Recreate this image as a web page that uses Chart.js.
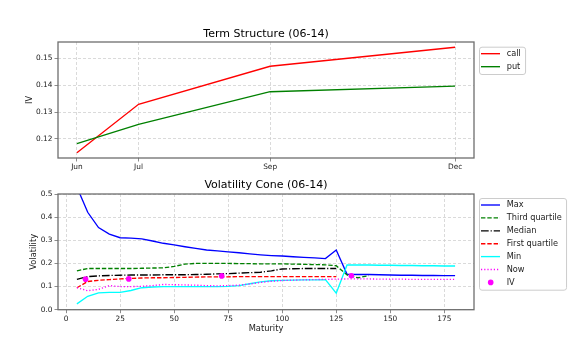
<!DOCTYPE html>
<html lang="en">
<head>
<meta charset="UTF-8">
<title>Term Structure / Volatility Cone (06-14)</title>
<script src="https://cdn.jsdelivr.net/npm/chart.js"></script>
<style>
  html, body { margin: 0; padding: 0; background: #fff; }
  .wrap { position: relative; width: 575px; height: 354px; }
  .wrap canvas { position: absolute; left: 0; }
  #termChart { top: 0; }
  #coneChart { top: 177px; }
</style>
</head>
<body>
<div class="wrap">
  <canvas id="termChart" width="575" height="177"></canvas>
  <canvas id="coneChart" width="575" height="177"></canvas>
</div>
<script>
// term structure: expiries (days from 06-14) and implied vol
const expiryLabels = ['Jun', 'Jul', 'Sep', 'Dec'];
const expiryDays = [13, 43, 107, 197];
const callIV = [0.1148, 0.1329, 0.1471, 0.1542];
const putIV = [0.1182, 0.1254, 0.1376, 0.1397];

// volatility cone (maturity in trading days)
const maturities = [5, 10, 15, 20, 25, 30, 35, 40, 45, 50, 55, 60, 65, 70, 75, 80, 85, 90,
  95, 100, 105, 110, 115, 120, 125, 130, 135, 140, 145, 150, 155, 160, 165, 170, 175, 180];
const coneMax = [0.530, 0.421, 0.355, 0.327, 0.311, 0.309, 0.306, 0.297, 0.287, 0.280,
  0.272, 0.265, 0.258, 0.254, 0.250, 0.246, 0.241, 0.237, 0.234, 0.232,
  0.229, 0.226, 0.224, 0.221, 0.258, 0.153, 0.152, 0.152, 0.151, 0.150,
  0.149, 0.149, 0.148, 0.148, 0.147, 0.147];
const coneQ3 = [0.168, 0.178, 0.178, 0.178, 0.178, 0.178, 0.179, 0.180, 0.181, 0.187,
  0.197, 0.200, 0.200, 0.200, 0.200, 0.199, 0.199, 0.198, 0.198, 0.198,
  0.197, 0.196, 0.195, 0.194, 0.190, 0.150, 0.138, 0.147, null, null,
  null, null, null, null, null, null];
const coneMedian = [0.131, 0.143, 0.146, 0.148, 0.149, 0.150, 0.150, 0.150, 0.151, 0.151,
  0.151, 0.152, 0.153, 0.155, 0.156, 0.158, 0.160, 0.162, 0.168, 0.176,
  0.177, 0.178, 0.178, 0.178, 0.178, null, null, null, null, null,
  null, null, null, null, null, null];
const coneQ1 = [0.095, 0.122, 0.127, 0.130, 0.133, 0.135, 0.137, 0.138, 0.138, 0.139,
  0.140, 0.141, 0.142, 0.142, 0.142, 0.143, 0.143, 0.143, 0.143, 0.143,
  0.143, 0.143, 0.143, 0.143, 0.143, null, null, null, null, null,
  null, null, null, null, null, null];
const coneMin = [0.025, 0.058, 0.073, 0.075, 0.075, 0.083, 0.095, 0.098, 0.100, 0.100,
  0.100, 0.100, 0.100, 0.100, 0.101, 0.104, 0.112, 0.120, 0.125, 0.127,
  0.128, 0.129, 0.129, 0.130, 0.071, 0.193, 0.193, 0.193, 0.192, 0.192,
  0.191, 0.191, 0.190, 0.190, 0.189, 0.189];
const coneNow = [0.095, 0.082, 0.088, 0.104, 0.100, 0.100, 0.101, 0.104, 0.109, 0.108,
  0.107, 0.106, 0.104, 0.103, 0.104, 0.106, 0.111, 0.118, 0.123, 0.126,
  0.128, 0.129, 0.130, 0.131, 0.132, 0.133, 0.133, 0.133, 0.132, 0.132,
  0.132, 0.131, 0.131, 0.131, 0.131, 0.131];
const ivMaturity = [9, 29, 72, 132];
const ivValue = [0.132, 0.133, 0.146, 0.147];

Chart.defaults.font.family = '"DejaVu Sans", sans-serif';
Chart.defaults.color = '#222222';
Chart.defaults.animation = false;

const pts = (xs, ys) => xs.map((x, i) => ({ x: x, y: ys[i] }));
const margin = (arr, f) => {
  const v = arr.filter(a => a !== null);
  const lo = Math.min(...v), hi = Math.max(...v), p = (hi - lo) * f;
  return [lo - p, hi + p];
};

// box around the axes, like matplotlib spines
const frame = {
  id: 'frame',
  afterDatasetsDraw(chart) {
    const { ctx, chartArea: a } = chart;
    ctx.save();
    ctx.strokeStyle = '#6e6e6e';
    ctx.lineWidth = 1.3;
    ctx.strokeRect(a.left, a.top, a.right - a.left, a.bottom - a.top);
    ctx.restore();
  }
};

// framed legend outside the axes on the right
const boxLegend = {
  id: 'boxLegend',
  afterDraw(chart, args, opts) {
    const { ctx, chartArea } = chart;
    const items = chart.data.datasets;
    ctx.save();
    ctx.font = '8.2px "DejaVu Sans", sans-serif';
    const textW = Math.max(...items.map(d => ctx.measureText(d.label).width));
    const x = chartArea.right + 5, y = chartArea.top + opts.offsetTop;
    const rowH = opts.rowH;
    const w = 27.7 + textW + 4.3, h = 14.3 + (items.length - 1) * rowH;
    ctx.fillStyle = 'rgba(255,255,255,0.8)';
    ctx.strokeStyle = '#cccccc';
    ctx.lineWidth = 1;
    ctx.beginPath();
    ctx.roundRect(x + 0.5, y + 0.5, w, h, 2.5);
    ctx.fill();
    ctx.stroke();
    items.forEach((d, i) => {
      const cy = y + 7 + i * rowH;
      if (d.showLine === false) {
        ctx.fillStyle = d.backgroundColor;
        ctx.beginPath();
        ctx.arc(x + 11.7, cy, 2.8, 0, Math.PI * 2);
        ctx.fill();
      } else {
        ctx.strokeStyle = d.borderColor;
        ctx.lineWidth = d.borderWidth;
        ctx.setLineDash(d.borderDash || []);
        ctx.beginPath();
        ctx.moveTo(x + 2, cy);
        ctx.lineTo(x + 21, cy);
        ctx.stroke();
        ctx.setLineDash([]);
      }
      ctx.fillStyle = '#222222';
      ctx.textBaseline = 'middle';
      ctx.fillText(d.label, x + 27.7, cy);
    });
    ctx.restore();
  }
};

const grid = { color: '#d0d0d0', lineWidth: 0.8, tickColor: '#6e6e6e', tickLength: 3.5 };
const border = { display: false, dash: [3, 2] };
const tickFont = { size: 7.4 };
const labelFont = { size: 8.3 };

function line(label, xs, ys, color, dash, order) {
  return {
    label: label, data: pts(xs, ys), borderColor: color, backgroundColor: color,
    borderWidth: 1.35, borderDash: dash, pointRadius: 0, tension: 0,
    spanGaps: false, fill: false, order: order
  };
}

// top: term structure
const [tx0, tx1] = margin(expiryDays, 0.05);
const [ty0, ty1] = margin(callIV.concat(putIV), 0.05);

new Chart(document.getElementById('termChart'), {
  type: 'line',
  data: {
    datasets: [
      line('call', expiryDays, callIV, '#ff0000', [], 2),
      line('put', expiryDays, putIV, '#008000', [], 1)
    ]
  },
  options: {
    responsive: false,
    layout: { padding: { left: 0, right: 101, top: 0, bottom: 0 } },
    plugins: {
      legend: { display: false },
      tooltip: { enabled: false },
      title: {
        display: true, text: 'Term Structure (06-14)', fullSize: false, color: '#000',
        font: { size: 11, weight: 'normal' }, padding: { top: 28, bottom: 0.8 }
      },
      boxLegend: { offsetTop: 4.7, rowH: 13 }
    },
    scales: {
      x: {
        type: 'linear', min: tx0, max: tx1,
        afterBuildTicks: s => { s.ticks = expiryDays.map(v => ({ value: v })); },
        ticks: { callback: v => expiryLabels[expiryDays.indexOf(v)], font: tickFont, padding: 1, maxRotation: 0 },
        grid: grid, border: border,
        afterFit: s => { s.height = 19; }
      },
      y: {
        min: ty0, max: ty1,
        ticks: { stepSize: 0.01, includeBounds: false, callback: v => v.toFixed(2), font: tickFont, padding: 2 },
        title: { display: true, text: 'IV', font: labelFont, padding: { top: 25, bottom: 0 } },
        grid: grid, border: border,
        afterFit: s => { s.width = 58; }
      }
    }
  },
  plugins: [frame, boxLegend]
});

// bottom: volatility cone
const [cx0, cx1] = margin(maturities, 0.05);

new Chart(document.getElementById('coneChart'), {
  type: 'line',
  data: {
    datasets: [
      line('Max', maturities, coneMax, '#0000ff', [], 7),
      line('Third quartile', maturities, coneQ3, '#008000', [4.4, 1.9], 6),
      line('Median', maturities, coneMedian, '#000000', [7.7, 1.9, 1.2, 1.9], 5),
      line('First quartile', maturities, coneQ1, '#ff0000', [4.4, 1.9], 4),
      line('Min', maturities, coneMin, '#00ffff', [], 3),
      line('Now', maturities, coneNow, '#ff00ff', [1.2, 2], 2),
      {
        label: 'IV', data: pts(ivMaturity, ivValue), showLine: false,
        backgroundColor: '#ff00ff', borderColor: '#ff00ff', borderWidth: 0,
        pointRadius: 2.8, order: 1
      }
    ]
  },
  options: {
    responsive: false,
    layout: { padding: { left: 0, right: 101, top: 0, bottom: 20.3 } },
    plugins: {
      legend: { display: false },
      tooltip: { enabled: false },
      title: {
        display: true, text: 'Volatility Cone (06-14)', fullSize: false, color: '#000',
        font: { size: 11, weight: 'normal' }, padding: { top: 2, bottom: 1.8 }
      },
      boxLegend: { offsetTop: 4, rowH: 12.9 }
    },
    scales: {
      x: {
        type: 'linear', min: cx0, max: cx1,
        ticks: { stepSize: 25, includeBounds: false, font: tickFont, padding: 1, maxRotation: 0 },
        title: { display: true, text: 'Maturity', font: labelFont, padding: { top: 0, bottom: 0 } },
        grid: grid, border: border,
        afterFit: s => { s.height = 24; }
      },
      y: {
        min: 0, max: 0.5,
        ticks: { stepSize: 0.1, callback: v => v.toFixed(1), font: tickFont, padding: 2 },
        title: { display: true, text: 'Volatility', font: labelFont, padding: { top: 29, bottom: 0 } },
        grid: grid, border: border,
        afterFit: s => { s.width = 58; }
      }
    }
  },
  plugins: [frame, boxLegend]
});
</script>
</body>
</html>
